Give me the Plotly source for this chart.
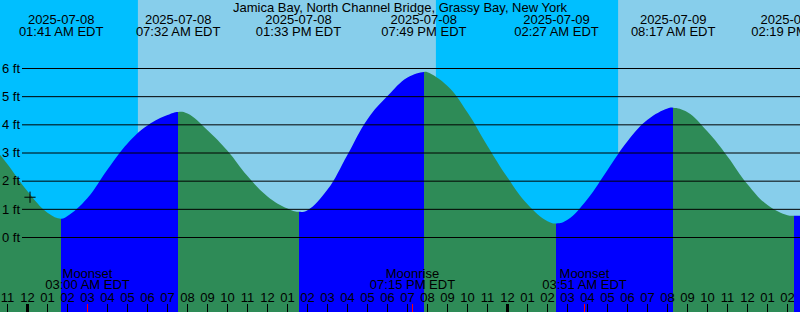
import plotly.graph_objects as go

# ---------------- data ----------------
station = "Jamica Bay, North Channel Bridge, Grassy Bay, New York"

# hours since 2025-07-08 00:00 EDT and water level (ft)
curve_hours = [-1.4, -1, 0, 1, 1.683, 2, 3, 4, 5, 6, 7, 7.533, 8, 9, 10, 11, 12, 13, 13.55,
               14, 15, 16, 17, 18, 19, 19.817, 20, 21, 22, 23, 24, 25, 26, 26.45,
               27, 28, 29, 30, 31, 32, 32.283, 33, 34, 35, 36, 37, 38, 38.317, 38.7]
curve_ft = [2.96, 2.60, 1.64, 0.88, 0.67, 0.76, 1.40, 2.41, 3.34, 3.98, 4.35, 4.46, 4.40, 3.81,
            3.08, 2.18, 1.46, 1.03, 0.91, 0.97, 1.70, 2.94, 4.20, 5.02, 5.68, 5.88, 5.87, 5.38,
            4.44, 3.25, 2.13, 1.18, 0.58, 0.50, 0.63, 1.37, 2.40, 3.42, 4.18, 4.58, 4.61, 4.45,
            3.76, 2.88, 1.89, 1.15, 0.79, 0.77, 0.78]

# tide events (low/high) in hours, with their labels
tide_hours = [1.683, 7.533, 13.55, 19.817, 26.45, 32.283, 38.317]
tide_kind = ["low", "high", "low", "high", "low", "high", "low"]
tide_dates = ["2025-07-08", "2025-07-08", "2025-07-08", "2025-07-08",
              "2025-07-09", "2025-07-09", "2025-07-09"]
tide_clock = ["01:41 AM EDT", "07:32 AM EDT", "01:33 PM EDT", "07:49 PM EDT",
              "02:27 AM EDT", "08:17 AM EDT", "02:19 PM EDT"]

# sun events (hours)
sunrise_hours = [5.52, 29.53]
sunset_hours = [20.42]

# moon events
moon_hours = [3.0, 19.25, 27.85]
moon_names = ["Moonset", "Moonrise", "Moonset"]
moon_clock = ["03:00 AM EDT", "07:15 PM EDT", "03:51 AM EDT"]

# hour axis
hour_ticks = list(range(-1, 39))
hour_labels = ["11", "12", "01", "02", "03", "04", "05", "06", "07", "08", "09", "10", "11",
               "12", "01", "02", "03", "04", "05", "06", "07", "08", "09", "10", "11",
               "12", "01", "02", "03", "04", "05", "06", "07", "08", "09", "10", "11",
               "12", "01", "02"]
midnight_hours = [0, 24]

ft_levels = [0, 1, 2, 3, 4, 5, 6]
ft_labels = ["0 ft", "1 ft", "2 ft", "3 ft", "4 ft", "5 ft", "6 ft"]

mark_hour = [0.125]
mark_ft = [1.43]

# ---------------- layout constants ----------------
W, H = 800, 312
X0_PX = 27.5          # pixel of 00:00
PX_PER_H = 20.0
ZERO_PX = 237.5       # pixel of 0 ft
PX_PER_FT = 169 / 6.0

x_min = -X0_PX / PX_PER_H
x_max = (W - X0_PX) / PX_PER_H
y_max = ZERO_PX / PX_PER_FT
y_min = (ZERO_PX - H) / PX_PER_FT


def px2h(px):
    return (px - X0_PX) / PX_PER_H


NIGHT = "#00BFFF"
DAY = "#87CEEB"
FLOOD = "#0000FF"
EBB = "#2E8B57"
FONT = "Liberation Sans, Arial, sans-serif"

fig = go.Figure()

# baseline for fill
fig.add_trace(go.Scatter(x=[x_min - 1, x_max + 1], y=[y_min - 1, y_min - 1], mode="lines",
                         line=dict(width=0, color="rgba(0,0,0,0)"), hoverinfo="skip"))

# water colour gradient: falling = ebb green, rising = flood blue
span = (x_max + 1) - (x_min - 1)
stops = []
prev = 0.0
color = EBB if tide_kind[0] == "low" else FLOOD
for th, kind in zip(tide_hours, tide_kind):
    f = (th - (x_min - 1)) / span
    stops.append([prev, color])
    stops.append([f, color])
    color = FLOOD if kind == "low" else EBB
    prev = f
stops.append([prev, color])
stops.append([1.0, color])

fig.add_trace(go.Scatter(
    x=curve_hours, y=curve_ft, mode="lines",
    line=dict(width=0, shape="spline", smoothing=1.2, color="rgba(0,0,0,0)"),
    fill="tonexty",
    fillgradient=dict(type="horizontal", start=x_min - 1, stop=x_max + 1, colorscale=stops),
    hoverinfo="skip"))

# marker
fig.add_trace(go.Scatter(x=mark_hour, y=mark_ft, mode="markers",
                         marker=dict(symbol="cross-thin", size=8, line=dict(width=1, color="black")),
                         hoverinfo="skip"))

shapes = []
# night bands
night_starts = [x_min - 1] + sunset_hours
night_ends = sunrise_hours
for a, b in zip(night_starts, night_ends):
    shapes.append(dict(type="rect", xref="x", yref="paper", x0=a, x1=b, y0=0, y1=1,
                       fillcolor=NIGHT, line=dict(width=0), layer="below"))
# ft grid lines
for lv in ft_levels:
    shapes.append(dict(type="line", xref="paper", yref="y", x0=22 / W, x1=1, y0=lv, y1=lv,
                       line=dict(color="black", width=1), layer="above"))
# midnight thick ticks
for m in midnight_hours:
    shapes.append(dict(type="line", xref="x", yref="paper", x0=m, x1=m, y0=0, y1=8 / H,
                       line=dict(color="black", width=3), layer="above"))
# moon ticks
for m in moon_hours:
    shapes.append(dict(type="line", xref="x", yref="paper", x0=m, x1=m, y0=0, y1=8 / H,
                       line=dict(color="red", width=1), layer="above"))

tfont = dict(family=FONT, size=13, color="black")


def text_row(xs, ys_px, texts, pos="middle center"):
    fig.add_trace(go.Scatter(x=xs, y=[b - 3.25 for b in ys_px], yaxis="y2", mode="text",
                             text=texts, textposition=pos, textfont=tfont, hoverinfo="skip",
                             cliponaxis=False))


text_row([px2h(400)], [12], [station])
text_row(tide_hours, [24] * len(tide_hours), tide_dates)
text_row(tide_hours, [35.7] * len(tide_hours), tide_clock)
text_row(moon_hours, [278] * len(moon_hours), moon_names)
text_row(moon_hours, [289.3] * len(moon_hours), moon_clock)
text_row(hour_ticks, [301.7] * len(hour_ticks), hour_labels)
text_row([px2h(2.0)] * len(ft_levels),
         [ZERO_PX - lv * PX_PER_FT + 4.2 for lv in ft_levels], ft_labels, "middle right")

fig.update_layout(
    width=W, height=H, margin=dict(l=0, r=0, t=0, b=0, pad=0),
    paper_bgcolor=DAY, plot_bgcolor=DAY, showlegend=False,
    shapes=shapes,
    xaxis=dict(range=[x_min, x_max], showgrid=False, zeroline=False, showline=False,
               tickmode="array", tickvals=hour_ticks, ticks="inside", ticklen=8, tickwidth=1,
               tickcolor="black", showticklabels=False, fixedrange=True),
    yaxis=dict(range=[y_min, y_max], showgrid=False, zeroline=False, showline=False,
               showticklabels=False, ticks="", fixedrange=True),
    yaxis2=dict(range=[H, 0], overlaying="y", visible=False, fixedrange=True),
)

fig.write_html("out.html")
